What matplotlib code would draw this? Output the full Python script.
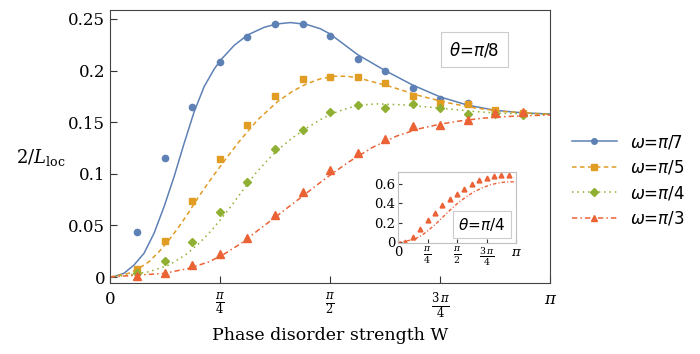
import numpy as np
import matplotlib
matplotlib.use("Agg")
import matplotlib.pyplot as plt
from matplotlib.font_manager import FontProperties

plt.rcParams["font.family"] = ["DejaVu Serif"]
plt.rcParams["mathtext.fontset"] = "dejavuserif"

# point positions: W = k*pi/16, k = 1..15
w_pts = [k * np.pi / 16 for k in range(1, 16)]

pts_pi7 = [0.0436, 0.115, 0.165, 0.208, 0.2326, 0.245, 0.245, 0.2335, 0.211,
           0.1996, 0.183, 0.172, 0.169, 0.161, 0.158]
pts_pi5 = [0.0077, 0.035, 0.074, 0.114, 0.147, 0.175, 0.192, 0.1935, 0.1935,
           0.188, 0.175, 0.169, 0.1676, 0.162, 0.1586]
pts_pi4 = [0.004, 0.0155, 0.034, 0.063, 0.0924, 0.124, 0.1424, 0.1594, 0.1667,
           0.164, 0.168, 0.164, 0.1576, 0.1576, 0.157]
pts_pi3 = [0.001, 0.004, 0.0116, 0.022, 0.038, 0.060, 0.0827, 0.104, 0.1205,
           0.1337, 0.1466, 0.147, 0.152, 0.1586, 0.1595]

# theory curves, W given in units of pi
cw_pi7 = [0, 0.0091, 0.0319, 0.0547, 0.0774, 0.1002, 0.123, 0.1458, 0.1686,
          0.1913, 0.2141, 0.2369, 0.2522, 0.2825, 0.3128, 0.3508, 0.38, 0.41,
          0.446, 0.478, 0.5, 0.5625, 0.625, 0.6875, 0.75, 0.8125, 0.875,
          0.9375, 1.0]
cv_pi7 = [0, 0.0003, 0.0036, 0.0116, 0.0229, 0.0423, 0.0681, 0.0972, 0.1295,
          0.16, 0.1845, 0.2015, 0.2105, 0.2245, 0.2345, 0.242, 0.2452, 0.2465,
          0.2448, 0.2405, 0.2355, 0.2155, 0.2, 0.186, 0.1745, 0.1665, 0.1615,
          0.159, 0.1579]
cw_pi5 = [0, 0.0433, 0.066, 0.0888, 0.1116, 0.1344, 0.157, 0.18, 0.2027, 0.2255,
          0.252, 0.275, 0.294, 0.335, 0.381, 0.415, 0.446, 0.478, 0.509, 0.54,
          0.572, 0.637, 0.7, 0.765, 0.829, 0.894, 1.0]
cv_pi5 = [0, 0.0036, 0.0084, 0.0148, 0.0245, 0.0359, 0.0488, 0.0633, 0.0785,
          0.0925, 0.108, 0.121, 0.1315, 0.152, 0.17, 0.18, 0.187, 0.192, 0.1945,
          0.1945, 0.192, 0.1845, 0.176, 0.169, 0.1638, 0.1603, 0.1576]
cw_pi4 = [0, 0.0433, 0.0888, 0.1344, 0.172, 0.2027, 0.233, 0.252, 0.279, 0.301,
          0.332, 0.362, 0.381, 0.415, 0.446, 0.478, 0.509, 0.544, 0.575, 0.605,
          0.666, 0.727, 0.765, 0.829, 0.893, 1.0]
cv_pi4 = [0, 0.0019, 0.0051, 0.0116, 0.0215, 0.0326, 0.0462, 0.056, 0.0708,
          0.0835, 0.101, 0.115, 0.123, 0.135, 0.144, 0.1525, 0.159, 0.164,
          0.1668, 0.1677, 0.1668, 0.1645, 0.163, 0.1603, 0.1585, 0.1576]
cw_pi3 = [0, 0.066, 0.123, 0.18, 0.2255, 0.256, 0.298, 0.3394, 0.37, 0.408,
          0.4305, 0.472, 0.503, 0.544, 0.597, 0.651, 0.7, 0.749, 0.795, 0.848,
          0.901, 1.0]
cv_pi3 = [0, 0.0019, 0.0035, 0.0084, 0.0148, 0.0213, 0.0326, 0.0462, 0.0561,
          0.0686, 0.076, 0.0897, 0.0996, 0.1119, 0.1257, 0.1365, 0.1434, 0.148,
          0.1512, 0.1539, 0.1555, 0.157]

# inset (theta = pi/4, omega = pi/3)
inset_pts = [0.01, 0.058, 0.142, 0.23, 0.305, 0.379, 0.44, 0.50, 0.551, 0.602,
             0.636, 0.66, 0.677, 0.687, 0.687]
inset_cw = [0, 0.133, 0.199, 0.261, 0.327, 0.389, 0.454, 0.517, 0.582, 0.645,
            0.71, 0.772, 0.838, 0.9, 0.966, 1.0]
inset_cv = [0, 0.03, 0.07, 0.128, 0.198, 0.27, 0.345, 0.413, 0.47, 0.518,
            0.556, 0.585, 0.605, 0.616, 0.62, 0.619]

blue, orange, green, red = "#5E81B5", "#E19C24", "#8FB032", "#EB6235"
xtick_pos = [0, np.pi / 4, np.pi / 2, 3 * np.pi / 4, np.pi]
xtick_lab = ["0", r"$\frac{\pi}{4}$", r"$\frac{\pi}{2}$", r"$\frac{3\,\pi}{4}$", r"$\pi$"]

sans = FontProperties(family="DejaVu Sans", size=12, math_fontfamily="dejavusans")

fig = plt.figure(figsize=(7, 3.54), dpi=100)
ax = fig.add_axes([0.157, 0.2006, 0.629, 0.7712])

series = [
    (cw_pi7, cv_pi7, pts_pi7, blue, "-", "o", 4.5, r"$\omega$=$\pi$/7"),
    (cw_pi5, cv_pi5, pts_pi5, orange, (0, (3, 2.2)), "s", 5, r"$\omega$=$\pi$/5"),
    (cw_pi4, cv_pi4, pts_pi4, green, (0, (1, 2.5)), "D", 4.5, r"$\omega$=$\pi$/4"),
    (cw_pi3, cv_pi3, pts_pi3, red, (0, (3.5, 2, 1, 2)), "^", 5.5, r"$\omega$=$\pi$/3"),
]
handles = []
for cw, cv, pts, col, ls, mk, ms, lab in series:
    ax.plot(np.array(cw) * np.pi, cv, color=col, ls=ls, lw=1.1)
    ax.plot(w_pts, pts, ls="none", marker=mk, ms=ms, color=col)
    handles.append(plt.Line2D([], [], color=col, ls=ls, lw=1.1, marker=mk,
                              ms=ms - 0.5, label=lab))

ax.set_xlim(0, np.pi)
ax.set_ylim(-0.0058, 0.2587)
ax.set_xticks(xtick_pos)
ax.set_xticklabels(xtick_lab)
ax.set_yticks([0, 0.05, 0.1, 0.15, 0.2, 0.25])
ax.set_yticklabels(["0", "0.05", "0.1", "0.15", "0.2", "0.25"])
ax.tick_params(direction="in", length=5, labelsize=12, color="#333333")
ax.tick_params(axis="x", pad=6)
for s in ax.spines.values():
    s.set_color("#444444")
ax.set_xlabel("Phase disorder strength W", fontsize=12.5, labelpad=4)
fig.text(0.023, 0.554, r"$2/L_{\rm loc}$", fontsize=13, va="center", ha="left")

ax.text(0.828, 0.855, r"$\theta$=$\pi$/8", transform=ax.transAxes, ha="center",
        va="center", fontproperties=sans,
        bbox=dict(boxstyle="square,pad=0.5", fc="white", ec="#cccccc", lw=0.8))

fig.legend(handles=handles, loc="center left", bbox_to_anchor=(0.795, 0.49),
           frameon=False, prop=sans, handlelength=2.7, labelspacing=0.45)

# inset
axi = fig.add_axes([0.5686, 0.3136, 0.1686, 0.2006])
axi.plot(np.array(inset_cw) * np.pi, inset_cv, color=red, ls=(0, (2.5, 1.5, 0.8, 1.5)), lw=1.0)
axi.plot(w_pts, inset_pts, ls="none", marker="^", ms=3.5, color=red)
axi.set_xlim(0, np.pi)
axi.set_ylim(-0.005, 0.72)
axi.set_xticks(xtick_pos)
axi.set_xticklabels(xtick_lab)
axi.set_yticks([0, 0.2, 0.4, 0.6])
axi.set_yticklabels(["0", "0.2", "0.4", "0.6"])
axi.tick_params(direction="in", length=3, labelsize=9.5, color="#333333", pad=2)
for s in axi.spines.values():
    s.set_color("#c0c0c0")
axi.text(0.71, 0.26, r"$\theta$=$\pi$/4", transform=axi.transAxes, ha="center",
         va="center", fontproperties=FontProperties(family="DejaVu Sans", size=11,
                                                    math_fontfamily="dejavusans"),
         bbox=dict(boxstyle="square,pad=0.35", fc="white", ec="#cccccc", lw=0.8))

fig.savefig("out.png", dpi=100)
